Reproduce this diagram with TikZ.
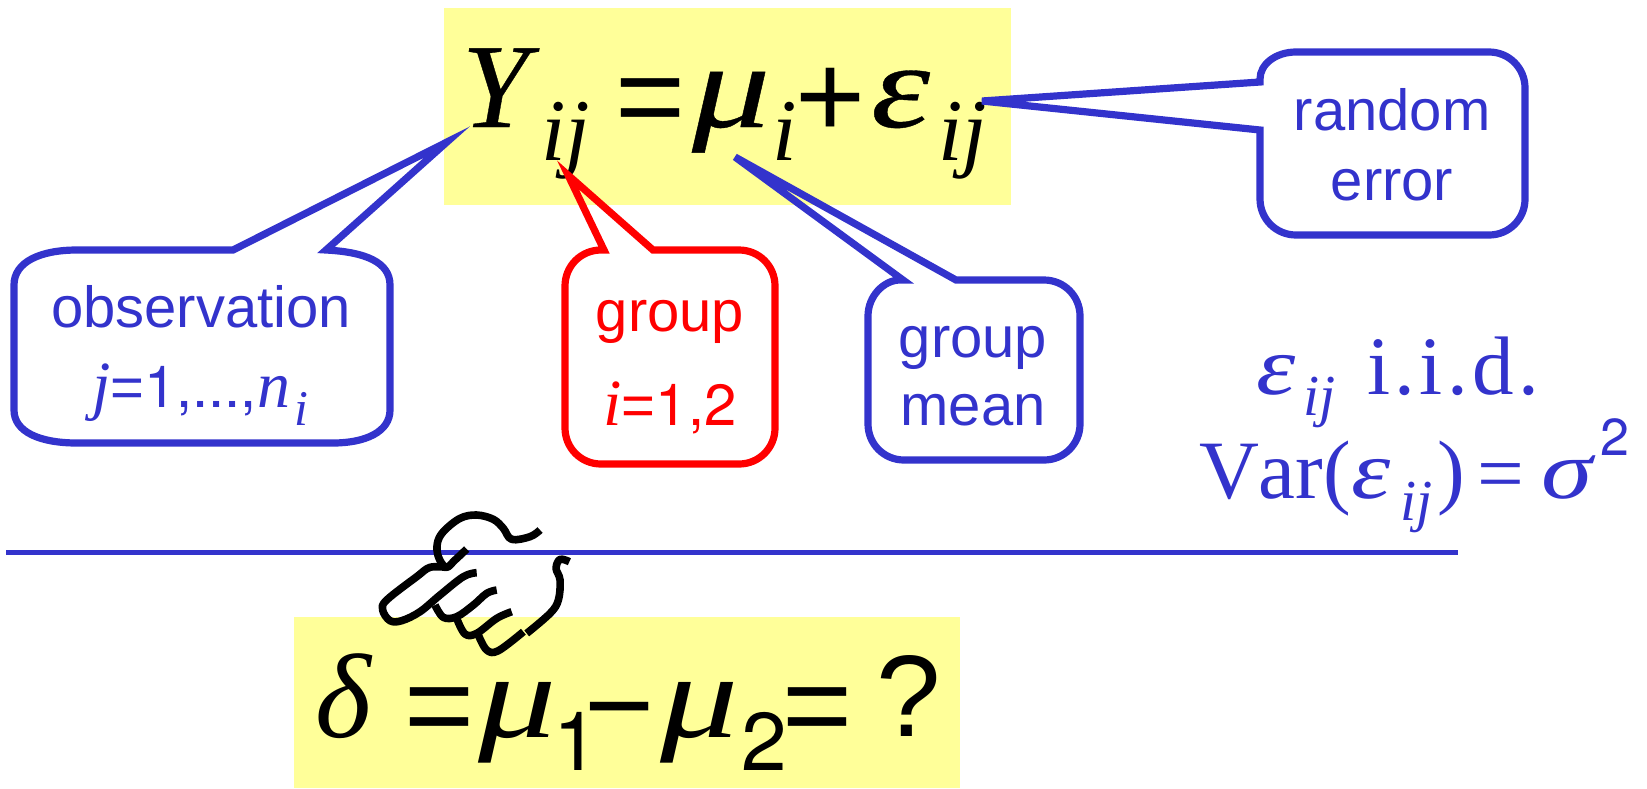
\documentclass[tikz,border=0pt]{standalone}
\usepackage{fontspec}
\setmainfont{Liberation Serif}
\newfontfamily\arialf{Liberation Sans}
\newfontfamily\hv{TeX Gyre Heros}
\newfontfamily\tii{Liberation Serif Italic}
\newfontfamily\tib[FakeBold=0.3]{Liberation Serif Italic}
\newfontfamily\rmnk[Kerning=Off]{Liberation Serif}
\definecolor{bl}{RGB}{51,51,204}
\definecolor{yl}{RGB}{255,255,153}
\newcommand{\fsz}[1]{\fontsize{#1pt}{#1pt}\selectfont}
\newcommand{\wid}[2]{\scalebox{#1}[1]{#2}}
\tikzset{
 t/.style={inner sep=0pt,outer sep=0pt,anchor=base west},
 big/.style={t,font=\fsz{60}\tii},
 bigb/.style={t,font=\fsz{60}\tib},
 sub/.style={t,font=\fsz{44}\tii},
 sbig/.style={t,font=\fsz{60}\arialf},
 snum/.style={t,font=\fsz{41}\hv},
 rm/.style={t,font=\fsz{41.5}\rmnk,text=bl},
 rmi/.style={t,font=\fsz{41.5}\tii,text=bl},
 rmsub/.style={t,font=\fsz{29}\tii,text=bl},
 lab/.style={inner sep=0pt,outer sep=0pt,anchor=base,font=\fsz{29}\arialf},
 callout/.style={line width=3.6pt,line join=miter},
 hand/.style={line width=3.8pt,line cap=butt,line join=round}
}
\begin{document}
\begin{tikzpicture}[x=0.5pt,y=-0.5pt]
\useasboundingbox (0,0) rectangle (1647,788);
\fill[yl] (444,8) rectangle (1011,205);
\fill[yl] (294,617) rectangle (960,788);
% top equation
\node[bigb] (Y) at (462,127) {Y};
\node[sub] (ij1) at (541,160) {ij};
\node[sbig] (eq1) at (615,137) {=};
\node[bigb] (mu1) at (692,127) {\wid{1.3}{μ}};
\node[sub] (i1) at (772,160) {i};
\node[sbig] (pl) at (795,137) {+};
\node[bigb] (ep1) at (871,127) {\wid{1.25}{ε}};
\node[sub] (ij2) at (938,160) {ij};
% bottom equation
\node[big] (de) at (315,737) {δ};
\node[sbig] (eq2) at (404,746) {=};
\node[big] (mu2) at (478,737) {\wid{1.3}{μ}};
\node[snum] (one) at (553,770) {1};
\node[sbig] (mn) at (584,746) {−};
\node[big] (mu3) at (660,737) {\wid{1.3}{μ}};
\node[snum] (two) at (741,770) {2};
\node[sbig] (eq3) at (782,746) {=};
\node[t,font=\fsz{58}\arialf] (qm) at (876,736) {?};
% right text
\node[rmi] (ep2) at (1256,394) {\wid{1.2}{ε}};
\node[rmsub] (ij3) at (1303,415) {ij};
\node[rm] (iid) at (1367,394) {i\kern2.2pt.\kern2.2pt i\kern2.2pt.\kern2.2pt d\kern2.2pt.};
\node[rm] (var) at (1199,498) {Var(};
\node[rmi] (ep3) at (1351,498) {\wid{1.2}{ε}};
\node[rmsub] (ij4) at (1400,520) {ij};
\node[rm] (cp) at (1437,498) {)};
\node[rm] (eq4) at (1477,501) {=};
\node[rmi] (sg) at (1541,498) {\wid{1.25}{σ}};
\node[t,font=\fsz{26}\hv,text=bl] (sq) at (1600,455) {2};
% rule
\coordinate (la) at (6,552.5);
\coordinate (lb) at (1458,552.5);
\draw[bl,line width=2.3pt] (la) -- (lb);
% callouts
\coordinate (tipO) at (447,142);
\draw[bl,callout] (233,250) -- (tipO) -- (326,250) .. controls (365,252) and (390,262) .. (390,285) -- (390,410) .. controls (390,432) and (365,443) .. (333,443) -- (77,443) .. controls (40,443) and (14,432) .. (14,410) -- (14,285) .. controls (14,262) and (40,250) .. (77,250) -- cycle;
\node[lab,text=bl] (obs) at (201,327) {observation};
\node[lab,text=bl] (obs2) at (200,407) {\tii\fsz{33}j\arialf\fsz{29}=\hv 1,...,\tii\fsz{33}n\raisebox{-9pt}{\kern2pt\fsz{25}i}};
\coordinate (tipR) at (568,175);
\draw[red,callout] (604,250) -- (tipR) -- (653,250) -- (739,250) .. controls (759,250) and (775,266) .. (775,286) -- (775,428) .. controls (775,448) and (759,464) .. (739,464) -- (601,464) .. controls (581,464) and (565,448) .. (565,428) -- (565,286) .. controls (565,266) and (581,250) .. (601,250) -- cycle;
\node[lab,text=red] (grp) at (670,331) {group};
\node[lab,text=red] (grp2) at (670,425) {\tii\fsz{33}i\arialf\fsz{29}=\hv 1,2};
\coordinate (tipM) at (735,157);
\draw[bl,callout] (903,280) -- (tipM) -- (956,280) -- (1044,280) .. controls (1064,280) and (1080,296) .. (1080,316) -- (1080,424) .. controls (1080,444) and (1064,460) .. (1044,460) -- (904,460) .. controls (884,460) and (868,444) .. (868,424) -- (868,316) .. controls (868,296) and (884,280) .. (900,280) -- cycle;
\node[lab,text=bl] (gm) at (973,357) {group};
\node[lab,text=bl] (gm2) at (973,425) {mean};
\coordinate (tipE) at (982,101);
\draw[bl,callout] (1260,82) -- (tipE) -- (1260,130) -- (1260,199) .. controls (1260,219) and (1276,235) .. (1296,235) -- (1489,235) .. controls (1509,235) and (1525,219) .. (1525,199) -- (1525,88) .. controls (1525,68) and (1509,52) .. (1489,52) -- (1296,52) .. controls (1276,52) and (1260,64) .. (1260,79) -- cycle;
\node[lab,text=bl] (re) at (1392,130) {random};
\node[lab,text=bl] (re2) at (1392,200) {error};
% hand
\begin{scope}[shift={(340,480)},x=0.1667pt,y=-0.1667pt,hand]
\draw plot[smooth,tension=.6] coordinates {(600,150) (570,170) (515,178) (490,145) (460,118) (410,105) (360,115) (310,155) (292,190) (295,230) (318,262) (345,240) (380,207)};
\draw plot[smooth,tension=.6] coordinates {(318,262) (270,262) (230,290) (140,360) (128,390) (150,422) (185,422) (240,395) (300,345) (370,290) (410,278)};
\draw plot[smooth,tension=.6] coordinates {(285,375) (310,412) (350,410) (400,375) (440,340) (470,330)};
\draw plot[smooth,tension=.6] coordinates {(350,415) (375,462) (410,460) (470,415) (515,395)};
\draw plot[smooth,tension=.6] coordinates {(415,465) (440,510) (475,512) (550,455)};
\draw plot[smooth,tension=.6] coordinates {(560,460) (630,400) (655,360) (660,300) (648,265) (660,238) (688,245)};
\end{scope}
\end{tikzpicture}
\end{document}
